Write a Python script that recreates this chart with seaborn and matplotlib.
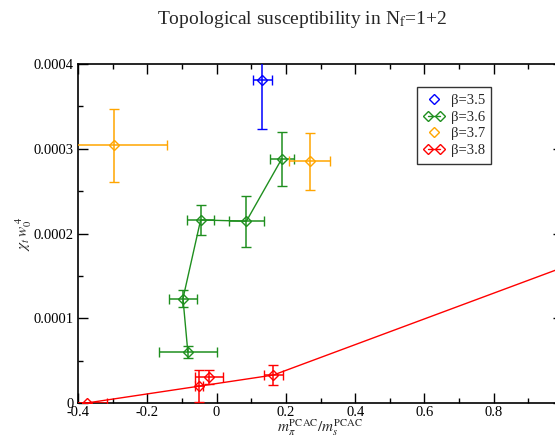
import numpy as np
import pandas as pd
import matplotlib
matplotlib.use('Agg')
import matplotlib.pyplot as plt
import seaborn as sns
from matplotlib.lines import Line2D
from matplotlib.legend_handler import HandlerLine2D
from matplotlib.ticker import MultipleLocator, FuncFormatter

## data: x = m_pi/m_s (PCAC), y = chi_t w0^4
b35_x = [0.132]
b35_y = [0.000381]
b35_xerr = [0.028]
b35_yerr = [0.0000577]

b36_x = [-0.083, -0.097, -0.046, 0.086, 0.188]
b36_y = [0.0000604, 0.0001232, 0.000216, 0.0002145, 0.000288]
b36_xerr = [0.083, 0.040, 0.038, 0.050, 0.035]
b36_yerr = [0.000007, 0.0000105, 0.000018, 0.00003, 0.000032]

b37_x = [-0.296, 0.269]
b37_y = [0.000304, 0.000285]
b37_xerr = [0.153, 0.059]
b37_yerr = [0.000043, 0.000034]

b38_x = [-0.375, -0.051, -0.022, 0.164]
b38_y = [0.0, 0.000020, 0.000031, 0.000033]
b38_xerr = [0.059, 0.012, 0.040, 0.027]
b38_yerr = [0.0, 0.000019, 0.000008, 0.000012]

## red line drawn through the beta=3.8 data
fit38_x = [-0.375, 0.164, 1.0]
fit38_y = [0.0, 0.000033, 0.00016]

colors = {'3.5': '#0000ff', '3.6': '#1f8f1f', '3.7': '#ffa500', '3.8': '#ff0000'}


def xfmt(v, p):
    if abs(v - 1.0) < 1e-9:
        return ''  # sits past the picture's right edge
    return '%g' % round(v, 6)


if __name__ == '__main__':
    sns.set_theme(style='ticks')
    plt.rcParams['font.family'] = ['Liberation Serif', 'DejaVu Serif']
    plt.rcParams['mathtext.fontset'] = 'stix'

    W, H = 555, 441
    fig = plt.figure(figsize=(W / 100, H / 100), dpi=100)
    fig.patch.set_facecolor('white')
    ax = fig.add_axes([78 / W, 1 - 403 / H, (563 - 78) / W, (403 - 64) / H])
    ax.set_facecolor('white')

    # connecting lines
    df36 = pd.DataFrame({'x': b36_x, 'y': b36_y})
    sns.lineplot(data=df36, x='x', y='y', sort=False, estimator=None,
                 color=colors['3.6'], lw=1.0, ax=ax)
    dffit = pd.DataFrame({'x': fit38_x, 'y': fit38_y})
    sns.lineplot(data=dffit, x='x', y='y', sort=False, estimator=None,
                 color=colors['3.8'], lw=1.0, ax=ax)

    sets = [('3.5', b35_x, b35_y, b35_xerr, b35_yerr),
            ('3.6', b36_x, b36_y, b36_xerr, b36_yerr),
            ('3.7', b37_x, b37_y, b37_xerr, b37_yerr),
            ('3.8', b38_x, b38_y, b38_xerr, b38_yerr)]
    for beta, x, y, xe, ye in sets:
        ax.errorbar(x, y, xerr=xe, yerr=ye, fmt='D', ms=5.5, mfc='none',
                    mec=colors[beta], mew=1.0, ecolor=colors[beta],
                    elinewidth=1.1, capsize=3.5, capthick=1.1, ls='none',
                    zorder=3)

    ax.set_xlim(-0.4, 1.0)
    ax.set_ylim(0, 0.0004)
    ax.xaxis.set_major_locator(MultipleLocator(0.2))
    ax.xaxis.set_minor_locator(MultipleLocator(0.1))
    ax.yaxis.set_major_locator(MultipleLocator(0.0001))
    ax.yaxis.set_minor_locator(MultipleLocator(0.00005))
    ax.xaxis.set_major_formatter(FuncFormatter(xfmt))
    ax.yaxis.set_major_formatter(FuncFormatter(lambda v, p: '%g' % round(v, 8)))
    ax.tick_params(which='both', direction='in', top=True, right=True,
                   colors='black', labelsize=10.5, width=1.0)
    ax.tick_params(which='major', length=7)
    ax.tick_params(which='minor', length=3.5)
    ax.tick_params(axis='x', pad=2)
    ax.tick_params(axis='y', pad=3)
    for s in ax.spines.values():
        s.set_color('black')
        s.set_linewidth(1.2)

    ax.set_xlabel('')
    ax.set_ylabel('')
    fig.text(320 / W, 1 - 428 / H, r'$m_\pi^{\rm PCAC}/m_s^{\rm PCAC}$',
             ha='center', va='center', fontsize=11)
    fig.text(24 / W, 1 - 234 / H, r'$\chi_t\, w_0^{\;4}$', rotation=90,
             ha='center', va='center', fontsize=11)
    fig.text(302 / W, 1 - 20 / H, r'Topological susceptibility in N$_{\rm f}$=1+2',
             ha='center', va='center', fontsize=14)

    handles = [
        Line2D([], [], color=colors['3.5'], marker='D', mfc='none', ls='none', ms=5.5),
        Line2D([], [], color=colors['3.6'], marker='D', mfc='none', ls='-', ms=5.5, lw=1.0),
        Line2D([], [], color=colors['3.7'], marker='D', mfc='none', ls='none', ms=5.5),
        Line2D([], [], color=colors['3.8'], marker='D', mfc='none', ls='-', ms=5.5, lw=1.0),
    ]
    labels = ['\u03b2=3.5', '\u03b2=3.6', '\u03b2=3.7', '\u03b2=3.8']
    hmap = {handles[0]: HandlerLine2D(numpoints=1), handles[2]: HandlerLine2D(numpoints=1)}
    leg = ax.legend(handles, labels, loc='upper left', handler_map=hmap,
                    bbox_to_anchor=(417 / W, 1 - 87 / H), bbox_transform=fig.transFigure,
                    borderaxespad=0, numpoints=2, handlelength=1.4, handletextpad=0.45,
                    fontsize=10.5, frameon=True, fancybox=False, labelspacing=0.25,
                    borderpad=0.45)
    leg.get_frame().set_edgecolor('black')
    leg.get_frame().set_linewidth(1.0)

    fig.savefig('out.png', dpi=100, facecolor='white')
